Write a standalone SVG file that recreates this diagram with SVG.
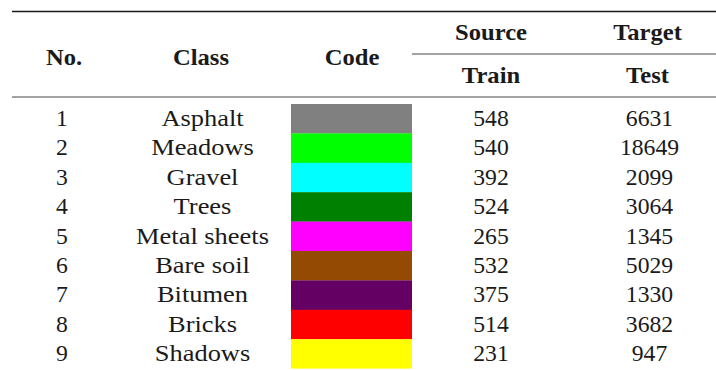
<svg xmlns="http://www.w3.org/2000/svg" width="716" height="370" viewBox="0 0 716 370">
<style>
text{font-family:"Liberation Serif","Times New Roman",serif;font-size:23px;fill:#1a1a1a;text-anchor:middle}
.h{font-weight:bold}
.w{transform:scale(1.15,1)}
.b{transform:scale(1.07,1)}
.n{transform:scale(1.03,1)}
.rule{stroke:#1a1a1a}
</style>
<rect width="716" height="370" fill="#fff"/>
<g id="rules">
<line class="rule" x1="12" y1="11.5" x2="716" y2="11.5" stroke-width="1.4"/>
<line class="rule" x1="412" y1="54" x2="716" y2="54" stroke-width="0.8"/>
<line class="rule" x1="12" y1="97" x2="716" y2="97" stroke-width="0.8"/>
</g>
<g id="header">
<g transform="translate(64,65)"><text class="h b">No.</text></g>
<g transform="translate(201,65)"><text class="h b">Class</text></g>
<g transform="translate(352,65)"><text class="h b">Code</text></g>
<g transform="translate(491,40)"><text class="h b">Source</text></g>
<g transform="translate(647.5,40)"><text class="h b">Target</text></g>
<g transform="translate(491,83)"><text class="h b">Train</text></g>
<g transform="translate(647.5,83)"><text class="h b">Test</text></g>
</g>
<g id="codes">
<rect x="291" y="104" width="121" height="29.6" fill="#808080"/>
<rect x="291" y="133.4" width="121" height="29.6" fill="#00ff00"/>
<rect x="291" y="162.8" width="121" height="29.6" fill="#00ffff"/>
<rect x="291" y="192.2" width="121" height="29.6" fill="#008000"/>
<rect x="291" y="221.6" width="121" height="29.6" fill="#ff00ff"/>
<rect x="291" y="251" width="121" height="29.6" fill="#954a04"/>
<rect x="291" y="280.4" width="121" height="29.6" fill="#640064"/>
<rect x="291" y="309.8" width="121" height="29.6" fill="#ff0000"/>
<rect x="291" y="339.2" width="121" height="29.4" fill="#ffff00"/>
</g>
<g id="row1" transform="translate(0,126)"><g transform="translate(62,0)"><text class="n">1</text></g><g transform="translate(202.5,0)"><text class="w">Asphalt</text></g><g transform="translate(491,0)"><text class="n">548</text></g><g transform="translate(649.5,0)"><text class="n">6631</text></g></g>
<g id="row2" transform="translate(0,155.4)"><g transform="translate(62,0)"><text class="n">2</text></g><g transform="translate(202.5,0)"><text class="w">Meadows</text></g><g transform="translate(491,0)"><text class="n">540</text></g><g transform="translate(649.5,0)"><text class="n">18649</text></g></g>
<g id="row3" transform="translate(0,184.8)"><g transform="translate(62,0)"><text class="n">3</text></g><g transform="translate(202.5,0)"><text class="w">Gravel</text></g><g transform="translate(491,0)"><text class="n">392</text></g><g transform="translate(649.5,0)"><text class="n">2099</text></g></g>
<g id="row4" transform="translate(0,214.2)"><g transform="translate(62,0)"><text class="n">4</text></g><g transform="translate(202.5,0)"><text class="w">Trees</text></g><g transform="translate(491,0)"><text class="n">524</text></g><g transform="translate(649.5,0)"><text class="n">3064</text></g></g>
<g id="row5" transform="translate(0,243.6)"><g transform="translate(62,0)"><text class="n">5</text></g><g transform="translate(202.5,0)"><text class="w">Metal sheets</text></g><g transform="translate(491,0)"><text class="n">265</text></g><g transform="translate(649.5,0)"><text class="n">1345</text></g></g>
<g id="row6" transform="translate(0,273)"><g transform="translate(62,0)"><text class="n">6</text></g><g transform="translate(202.5,0)"><text class="w">Bare soil</text></g><g transform="translate(491,0)"><text class="n">532</text></g><g transform="translate(649.5,0)"><text class="n">5029</text></g></g>
<g id="row7" transform="translate(0,302.4)"><g transform="translate(62,0)"><text class="n">7</text></g><g transform="translate(202.5,0)"><text class="w">Bitumen</text></g><g transform="translate(491,0)"><text class="n">375</text></g><g transform="translate(649.5,0)"><text class="n">1330</text></g></g>
<g id="row8" transform="translate(0,331.8)"><g transform="translate(62,0)"><text class="n">8</text></g><g transform="translate(202.5,0)"><text class="w">Bricks</text></g><g transform="translate(491,0)"><text class="n">514</text></g><g transform="translate(649.5,0)"><text class="n">3682</text></g></g>
<g id="row9" transform="translate(0,361.2)"><g transform="translate(62,0)"><text class="n">9</text></g><g transform="translate(202.5,0)"><text class="w">Shadows</text></g><g transform="translate(491,0)"><text class="n">231</text></g><g transform="translate(649.5,0)"><text class="n">947</text></g></g>
</svg>
